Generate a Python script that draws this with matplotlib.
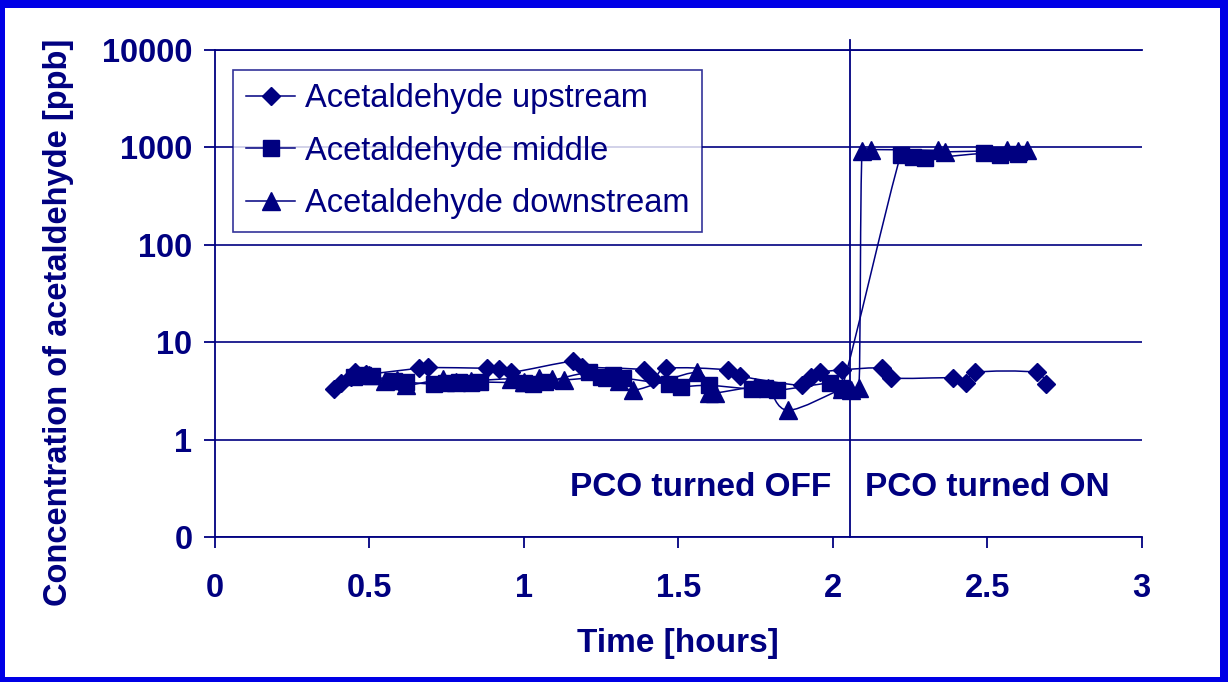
import numpy as np
import matplotlib
matplotlib.use("Agg")
import matplotlib.pyplot as plt
from matplotlib.path import Path
from matplotlib.patches import PathPatch, Rectangle
from matplotlib.lines import Line2D
from matplotlib.ticker import FixedLocator, FixedFormatter, NullLocator

# ---- data: time [hours] and acetaldehyde concentration [ppb] ----
up_time = [0.385, 0.41, 0.44, 0.455, 0.49, 0.66, 0.69, 0.88, 0.92, 0.96,
           1.16, 1.19, 1.39, 1.42, 1.46, 1.66, 1.70, 1.90, 1.93, 1.96,
           2.03, 2.16, 2.19, 2.39, 2.43, 2.46, 2.66, 2.69]
up_ppb = [3.3, 3.8, 4.4, 5.0, 4.7, 5.4, 5.5, 5.4, 5.3, 4.9,
          6.4, 5.6, 5.2, 4.2, 5.4, 5.2, 4.5, 3.6, 4.4, 4.9,
          5.2, 5.4, 4.3, 4.3, 3.8, 4.9, 4.9, 3.7]

mid_time = [0.45, 0.48, 0.51, 0.58, 0.62, 0.71, 0.75, 0.79, 0.83, 0.86,
            1.00, 1.03, 1.07, 1.21, 1.25, 1.29, 1.32, 1.47, 1.51, 1.60,
            1.74, 1.78, 1.82, 1.99, 2.03, 2.22, 2.26, 2.30, 2.49, 2.54, 2.60]
mid_ppb = [4.4, 4.6, 4.5, 4.0, 3.9, 3.7, 3.8, 3.9, 3.8, 3.9,
           3.8, 3.7, 3.9, 4.9, 4.4, 4.6, 4.3, 3.7, 3.5, 3.6,
           3.3, 3.4, 3.2, 3.8, 3.4, 830, 790, 770, 870, 840, 850]

down_time = [0.50, 0.55, 0.59, 0.62, 0.74, 0.78, 0.83, 0.96, 1.00, 1.05,
             1.09, 1.13, 1.27, 1.31, 1.355, 1.56, 1.60, 1.62, 1.75, 1.79,
             1.856, 2.03, 2.06, 2.085, 2.095, 2.125, 2.34, 2.365, 2.565,
             2.60, 2.63]
down_ppb = [4.6, 4.0, 4.1, 3.6, 4.2, 3.9, 4.0, 4.2, 3.9, 4.3,
            4.2, 4.1, 4.4, 4.0, 3.2, 4.9, 3.0, 3.0, 3.5, 3.4,
            2.0, 3.3, 3.2, 3.4, 920, 950, 930, 900, 930, 910, 930]

series_names = ["Acetaldehyde upstream", "Acetaldehyde middle",
                "Acetaldehyde downstream"]

y_ticks = [0.1, 1, 10, 100, 1000, 10000]
y_tick_labels = ["0", "1", "10", "100", "1000", "10000"]
x_ticks = [0, 0.5, 1, 1.5, 2, 2.5, 3]
x_tick_labels = ["0", "0.5", "1", "1.5", "2", "2.5", "3"]

pco_switch_time = 2.056
label_off = "PCO turned OFF"
label_on = "PCO turned ON"

# ---- style ----
NAVY = "#000080"
FRAME = "#0000E6"
FONT = "Liberation Sans"
FS = 24

plt.rcParams["font.family"] = [FONT, "DejaVu Sans"]

W, H = 1228, 682
fig = plt.figure(figsize=(W / 100, H / 100), dpi=100)
fig.patch.set_facecolor(FRAME)
fig.patches.append(Rectangle((5 / W, 5 / H), (W - 13) / W, (H - 13) / H,
                             transform=fig.transFigure, facecolor="white",
                             edgecolor="none", zorder=-5))

ax = fig.add_axes([214.7 / W, 1 - 537 / H, 927 / W, 487 / H])
ax.set_facecolor("none")
ax.set_yscale("log")
ax.set_xlim(0, 3)
ax.set_ylim(0.1, 10000)

ax.spines["right"].set_visible(False)
for side in ("left", "bottom", "top"):
    ax.spines[side].set_color(NAVY)
    ax.spines[side].set_linewidth(1.3)

ax.yaxis.set_major_locator(FixedLocator(y_ticks))
ax.yaxis.set_major_formatter(FixedFormatter(y_tick_labels))
ax.yaxis.set_minor_locator(NullLocator())
ax.xaxis.set_major_locator(FixedLocator(x_ticks))
ax.xaxis.set_major_formatter(FixedFormatter(x_tick_labels))

ax.tick_params(axis="both", colors=NAVY, width=1.3, length=8, direction="out")
ax.tick_params(axis="x", pad=18)
ax.tick_params(axis="y", pad=8)
for lab in ax.get_xticklabels() + ax.get_yticklabels():
    lab.set_fontsize(23.5)
    lab.set_fontweight("bold")
    lab.set_color(NAVY)

ax.grid(axis="y", color=NAVY, linewidth=1.2)
ax.set_axisbelow(True)

ax.set_xlabel("Time [hours]", fontsize=FS, fontweight="bold", color=NAVY,
              labelpad=17)
ax.set_ylabel("Concentration of acetaldehyde [ppb]", fontsize=23.5,
              fontweight="bold", color=NAVY)
ax.yaxis.set_label_coords(-0.152, 0.44)


def smooth_path(xs, ys):
    """Bezier curve through the points, with Catmull-Rom style tangents
    computed in screen space and limited to half of the adjacent segment."""
    pts = ax.transData.transform(np.column_stack([xs, ys]))
    n = len(pts)
    verts = [pts[0]]
    codes = [Path.MOVETO]

    def tangent(i):
        a = pts[max(i - 1, 0)]
        b = pts[min(i + 1, n - 1)]
        return (b - a) / 6.0

    for i in range(n - 1):
        p0, p1 = pts[i], pts[i + 1]
        seg = np.hypot(*(p1 - p0))
        t0 = tangent(i)
        t1 = tangent(i + 1)
        for t in (t0, t1):
            ln = np.hypot(*t)
            if ln > 0.5 * seg and ln > 0:
                t *= 0.5 * seg / ln
        verts += [p0 + t0, p1 - t1, p1]
        codes += [Path.CURVE4] * 3
    data_verts = ax.transData.inverted().transform(np.array(verts))
    return Path(data_verts, codes)


series = [
    (up_time, up_ppb, "D", 9.0),
    (mid_time, mid_ppb, "s", 11.0),
    (down_time, down_ppb, "^", 13.0),
]

handles = []
for (t, c, mk, ms), name in zip(series, series_names):
    ax.add_patch(PathPatch(smooth_path(t, c), fill=False, edgecolor=NAVY,
                           linewidth=1.1, zorder=2))
    ax.plot(t, c, linestyle="none", marker=mk, markersize=ms, color=NAVY,
            markeredgecolor=NAVY, zorder=3)
    handles.append(Line2D([], [], color=NAVY, linewidth=1.1, marker=mk,
                          markersize=ms, markeredgecolor=NAVY, label=name))

ax.axvline(pco_switch_time, ymin=0, ymax=1.02, color=NAVY, linewidth=1.3,
           clip_on=False, zorder=4)

ax.text(1.995, 0.32, label_off, ha="right", va="center", fontsize=FS,
        fontweight="bold", color=NAVY)
ax.text(2.105, 0.32, label_on, ha="left", va="center", fontsize=FS,
        fontweight="bold", color=NAVY)

leg = ax.legend(handles=handles, loc="upper left",
                bbox_to_anchor=((233 - 214.7) / 927, (537 - 70) / 487),
                borderaxespad=0, frameon=True, fancybox=False,
                prop={"family": FONT, "size": 23.5}, handlelength=1.5,
                handletextpad=0.3, labelspacing=0.66, borderpad=0.4)
leg.get_frame().set_edgecolor(NAVY)
leg.get_frame().set_linewidth(1.2)
for txt in leg.get_texts():
    txt.set_color(NAVY)

fig.savefig("out.png", dpi=100, facecolor=fig.get_facecolor())
